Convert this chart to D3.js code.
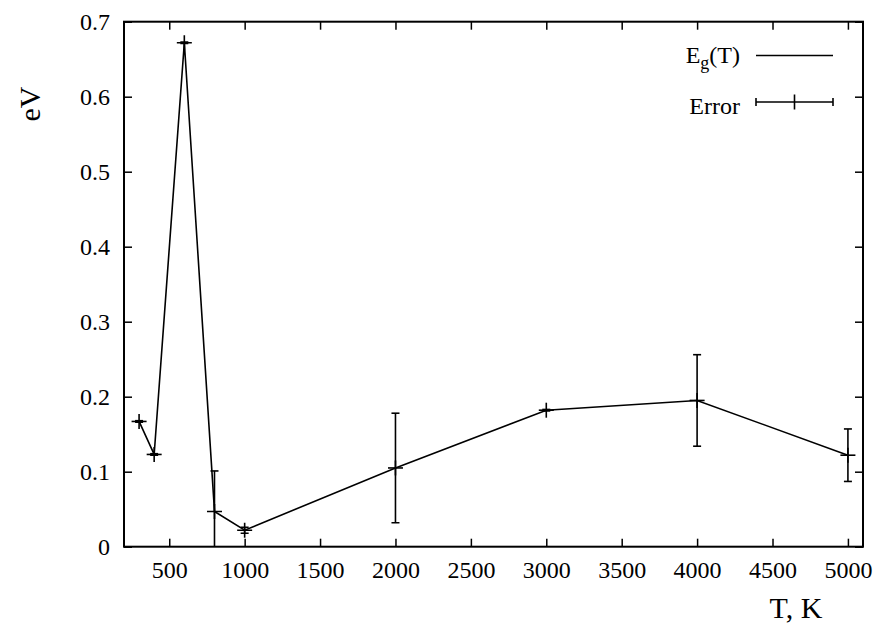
<!DOCTYPE html>
<html>
<head>
<meta charset="utf-8">
<script src="https://cdn.jsdelivr.net/npm/d3@7"></script>
<style>
  html, body { margin: 0; padding: 0; background: #fff; }
  svg { display: block; }
  text { font-family: "Liberation Serif", "DejaVu Serif", serif; fill: #000; }
</style>
</head>
<body>
<svg id="chart" width="877" height="623"></svg>
<script>
// ---- data ----
const temps = [300, 400, 600, 800, 1000, 2000, 3000, 4000, 5000];
const egValues = [0.167, 0.123, 0.672, 0.047, 0.022, 0.105, 0.182, 0.195, 0.122];
const errValues = [0.001, 0.001, 0.001, 0.054, 0.004, 0.073, 0.001, 0.061, 0.035];
const xTicks = [500, 1000, 1500, 2000, 2500, 3000, 3500, 4000, 4500, 5000];
const yTicks = [0, 0.1, 0.2, 0.3, 0.4, 0.5, 0.6, 0.7];
const xDomain = [200, 5100];
const yDomain = [0, 0.7];
const xLabel = "T, K";
const yLabel = "eV";
const legendLabels = ["E", "Error"];

// ---- layout ----
const W = 877, H = 623;
const m = { left: 124, right: 14, top: 21.7, bottom: 76.3 };
const iw = W - m.left - m.right, ih = H - m.top - m.bottom;

const svg = d3.select("#chart");
const g = svg.append("g").attr("transform", `translate(${m.left},${m.top})`);

const x = d3.scaleLinear().domain(xDomain).range([0, iw]);
const y = d3.scaleLinear().domain(yDomain).range([ih, 0]);

const data = temps.map((t, i) => ({ t, v: egValues[i], e: errValues[i] }));

svg.append("defs").append("clipPath").attr("id", "clip")
  .append("rect").attr("width", iw).attr("height", ih);

const tickLen = 8;
const fs = 24;
const serif = '"Liberation Serif", "Times New Roman", serif';

// axes: bottom ticks + labels
const xAxis = d3.axisBottom(x).tickValues(xTicks).tickSizeInner(-tickLen).tickSizeOuter(0).tickPadding(14).tickFormat(d3.format("d"));
const gx = g.append("g").attr("transform", `translate(0,${ih})`).call(xAxis);
const yAxis = d3.axisLeft(y).tickValues(yTicks).tickSizeInner(-tickLen).tickSizeOuter(0).tickPadding(14).tickFormat(d => d === 0 ? "0" : d3.format(".1f")(d));
const gy = g.append("g").call(yAxis);
// mirrored ticks top/right
const gxt = g.append("g").call(d3.axisTop(x).tickValues(xTicks).tickSizeInner(-tickLen).tickSizeOuter(0).tickFormat(""));
const gyr = g.append("g").attr("transform", `translate(${iw},0)`).call(d3.axisRight(y).tickValues(yTicks).tickSizeInner(-tickLen).tickSizeOuter(0).tickFormat(""));

[gx, gy, gxt, gyr].forEach(a => {
  a.attr("font-family", serif).attr("font-size", fs);
  a.select(".domain").remove();
  a.selectAll(".tick line").attr("stroke", "#000").attr("stroke-width", 1.5);
  a.selectAll(".tick text").style("font-family", serif).style("font-size", fs + "px").attr("fill", "#000");
});

// data line
const plot = g.append("g").attr("clip-path", "url(#clip)");
plot.append("path").datum(data)
  .attr("fill", "none").attr("stroke", "#000").attr("stroke-width", 1.6)
  .attr("d", d3.line().x(d => x(d.t)).y(d => y(d.v)));

// error bars
const capW = 4, plusR = 7.5;
const eb = plot.append("g").attr("stroke", "#000").attr("stroke-width", 1.6);
data.forEach(d => {
  const cx = x(d.t), y0 = y(d.v - d.e), y1 = y(d.v + d.e), cy = y(d.v);
  eb.append("line").attr("x1", cx).attr("x2", cx).attr("y1", y0).attr("y2", y1);
  eb.append("line").attr("x1", cx - capW).attr("x2", cx + capW).attr("y1", y0).attr("y2", y0);
  eb.append("line").attr("x1", cx - capW).attr("x2", cx + capW).attr("y1", y1).attr("y2", y1);
  eb.append("line").attr("x1", cx - plusR).attr("x2", cx + plusR).attr("y1", cy).attr("y2", cy);
  eb.append("line").attr("x1", cx).attr("x2", cx).attr("y1", cy - plusR).attr("y2", cy + plusR);
});

// frame
g.append("rect").attr("width", iw).attr("height", ih)
  .attr("fill", "none").attr("stroke", "#000").attr("stroke-width", 2);

// axis labels
svg.append("text").attr("x", 796).attr("y", 618).attr("text-anchor", "middle")
  .style("font-size", "30px").text(xLabel);
svg.append("text").attr("transform", "translate(40,104) rotate(-90)").attr("text-anchor", "middle")
  .style("font-size", "30px").text(yLabel);

// legend
const lg = svg.append("g");
const t1 = lg.append("text").attr("x", 740).attr("y", 63).attr("text-anchor", "end").style("font-size", fs + "px");
t1.append("tspan").text(legendLabels[0]);
t1.append("tspan").attr("dy", 6).style("font-size", "18px").text("g");
t1.append("tspan").attr("dy", -6).text("(T)");
lg.append("line").attr("x1", 756).attr("x2", 833).attr("y1", 55.5).attr("y2", 55.5).attr("stroke", "#000").attr("stroke-width", 1.6);

lg.append("text").attr("x", 740).attr("y", 114).attr("text-anchor", "end").style("font-size", fs + "px").text(legendLabels[1]);
const ly = 102;
const le = lg.append("g").attr("stroke", "#000").attr("stroke-width", 1.6);
le.append("line").attr("x1", 756).attr("x2", 833).attr("y1", ly).attr("y2", ly);
le.append("line").attr("x1", 756).attr("x2", 756).attr("y1", ly - 4).attr("y2", ly + 4);
le.append("line").attr("x1", 833).attr("x2", 833).attr("y1", ly - 4).attr("y2", ly + 4);
le.append("line").attr("x1", 794.5).attr("x2", 794.5).attr("y1", ly - plusR).attr("y2", ly + plusR);
</script>
</body>
</html>
